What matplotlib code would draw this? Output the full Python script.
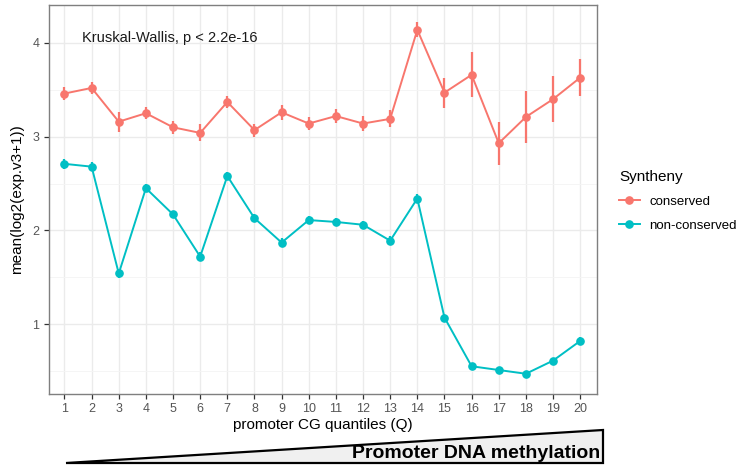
import matplotlib
matplotlib.use("Agg")
import matplotlib.pyplot as plt
from matplotlib.patches import Polygon
from matplotlib.lines import Line2D

plt.rcParams['font.family'] = ['Liberation Sans', 'DejaVu Sans']

quantiles = list(range(1, 21))
conserved_mean = [3.46, 3.52, 3.16, 3.25, 3.10, 3.04, 3.37, 3.07, 3.26, 3.14,
                  3.22, 3.14, 3.19, 4.14, 3.47, 3.66, 2.93, 3.21, 3.40, 3.63]
conserved_err = [0.065, 0.06, 0.105, 0.065, 0.07, 0.09, 0.065, 0.07, 0.08, 0.07,
                 0.07, 0.08, 0.09, 0.08, 0.16, 0.24, 0.23, 0.275, 0.245, 0.20]
nonconserved_mean = [2.71, 2.68, 1.54, 2.45, 2.17, 1.72, 2.58, 2.13, 1.87, 2.11,
                     2.09, 2.06, 1.89, 2.34, 1.07, 0.55, 0.51, 0.47, 0.61, 0.82]
nonconserved_err = [0.05, 0.045, 0.05, 0.045, 0.04, 0.05, 0.045, 0.04, 0.045, 0.045,
                    0.045, 0.045, 0.05, 0.05, 0.035, 0.03, 0.025, 0.025, 0.03, 0.04]
series_names = ["conserved", "non-conserved"]
series_colors = ["#F8766D", "#00BFC4"]

W, H = 746, 473
fig = plt.figure(figsize=(W / 100, H / 100), dpi=100)
ax = fig.add_axes([49 / W, 1 - 394 / H, (597 - 49) / W, (394 - 5) / H])

for mean, err, col in [(conserved_mean, conserved_err, series_colors[0]),
                       (nonconserved_mean, nonconserved_err, series_colors[1])]:
    ax.plot(quantiles, mean, color=col, lw=1.4, zorder=3)
    ax.errorbar(quantiles, mean, yerr=err, fmt='o', color=col, ms=5.2,
                elinewidth=1.6, capsize=0, zorder=4)

ax.set_xlim(0.43, 20.62)
ax.set_ylim(0.254, 4.405)
ax.set_xticks(quantiles)
ax.set_xticklabels([str(q) for q in quantiles])
ax.set_yticks([1, 2, 3, 4])
ax.set_yticks([0.5, 1.5, 2.5, 3.5], minor=True)
ax.grid(True, which='major', color='#EBEBEB', lw=1.0, zorder=0)
ax.grid(True, which='minor', axis='y', color='#F4F4F4', lw=0.6, zorder=0)
ax.set_axisbelow(True)
for s in ax.spines.values():
    s.set_color('#7F7F7F')
    s.set_linewidth(1.0)
ax.tick_params(axis='both', which='major', colors='#333333', labelcolor='#555555',
               labelsize=9, length=3.5, width=0.9)
ax.tick_params(axis='y', which='minor', length=0)
ax.tick_params(axis='x', pad=3)
ax.set_xlabel("promoter CG quantiles (Q)", fontsize=11, labelpad=2)
ax.set_ylabel("mean(log2(exp.v3+1))", fontsize=11, labelpad=6)

ax.text(1.66, 4.05, "Kruskal-Wallis, p < 2.2e-16", fontsize=10.5, ha='left', va='center',
        color='#1a1a1a')

# legend
handles = [Line2D([0], [0], color=c, lw=1.4, marker='o', ms=5.2) for c in series_colors]
leg = fig.legend(handles, series_names, title="Syntheny", loc='upper left',
                 bbox_to_anchor=(607 / W, 1 - 158 / H), frameon=False,
                 fontsize=9.5, title_fontsize=11, handlelength=1.6, handletextpad=0.7,
                 labelspacing=0.9, alignment='left')

# wedge annotation under the axis
tri = Polygon([(66 / W, 1 - 463 / H), (603 / W, 1 - 430 / H), (603 / W, 1 - 463 / H)],
              closed=True, transform=fig.transFigure, facecolor='#F0F0F0',
              edgecolor='black', lw=1.6)
fig.add_artist(tri)
fig.text(600 / W, 1 - 453 / H, "Promoter DNA methylation", fontsize=14,
         fontweight='bold', ha='right', va='center', color='black')

fig.savefig("out.png", dpi=100)
